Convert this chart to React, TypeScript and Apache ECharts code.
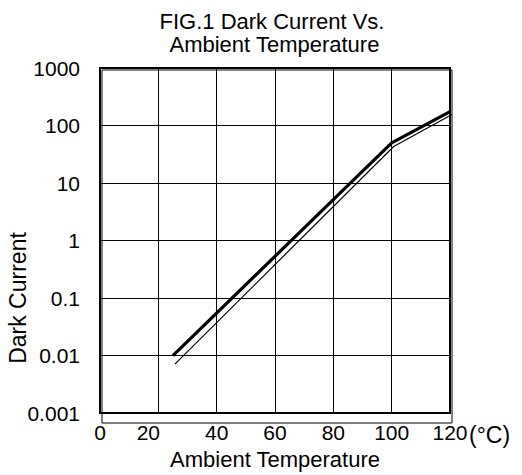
import React, { useEffect, useRef } from "react";
import * as echarts from "echarts";

const temperatures = [25, 100, 120];
const darkCurrent = [0.01, 50, 175];
const xTicks = [0, 20, 40, 60, 80, 100, 120];
const yTickLabels = ["0.001", "0.01", "0.1", "1", "10", "100", "1000"];

const FONT = "'Liberation Sans', Arial, Helvetica, sans-serif";

export default function App() {
  const ref = useRef<HTMLDivElement>(null);
  useEffect(() => {
    if (!ref.current) return;
    document.body.style.margin = "0";
    const chart = echarts.init(ref.current, null, { renderer: "svg" });
    const pts = temperatures.map((t, i) => [t, darkCurrent[i]]);
    const L = 100, T = 68, W = 350, H = 353;
    const xCommon = {
      type: "value" as const,
      min: xTicks[0],
      max: xTicks[xTicks.length - 1],
      interval: 20,
    };
    const yCommon = {
      type: "log" as const,
      logBase: 10,
      min: 0.001,
      max: 1000,
    };
    chart.setOption({
      animation: false,
      backgroundColor: "#fff",
      textStyle: { fontFamily: FONT, color: "#000" },
      title: {
        text: "FIG.1 Dark Current Vs.\n Ambient Temperature",
        left: 267,
        top: 5,
        textAlign: "center",
        textStyle: {
          fontFamily: FONT,
          fontSize: 22,
          fontWeight: "normal",
          color: "#000",
          lineHeight: 23,
          align: "center",
        },
      },
      grid: [
        {
          left: L, top: T, width: W, height: H,
          show: true, borderColor: "#000", borderWidth: 2,
          backgroundColor: "transparent",
        },
        {
          left: L + 2, top: T + 2, width: W, height: H,
          show: true, borderColor: "#000", borderWidth: 1,
          backgroundColor: "transparent",
        },
      ],
      xAxis: [
        {
          ...xCommon,
          gridIndex: 0,
          axisLine: { show: false },
          axisTick: { show: false },
          splitLine: { show: true, lineStyle: { color: "#000", width: 1 } },
          axisLabel: {
            fontSize: 21, color: "#000", fontFamily: FONT, margin: 9,
            formatter: (v: number) => (v === 20 ? "{s|20}" : String(v)),
            rich: { s: { fontSize: 21, fontFamily: FONT, color: "#000", padding: [0, 20, 0, 0] } },
          },
          name: "Ambient Temperature",
          nameLocation: "middle",
          nameGap: 32,
          nameTextStyle: { fontSize: 22, color: "#000", fontFamily: FONT },
        },
        {
          ...xCommon,
          gridIndex: 1,
          axisLine: { show: false },
          axisTick: { show: false },
          splitLine: { show: false },
          axisLabel: { show: false },
          name: "(°C)",
          nameLocation: "end",
          nameGap: 17,
          nameTextStyle: {
            fontSize: 23, color: "#000", fontFamily: FONT,
            verticalAlign: "top", align: "left", padding: [0, 0, 4, 0],
          },
        },
      ],
      yAxis: [
        {
          ...yCommon,
          gridIndex: 0,
          axisLine: { show: false },
          axisTick: { show: false },
          splitLine: { show: true, lineStyle: { color: "#000", width: 1 } },
          axisLabel: {
            fontSize: 21, color: "#000", fontFamily: FONT, margin: 20,
            formatter: (_v: number, i: number) => yTickLabels[i] ?? "",
          },
        },
        {
          ...yCommon,
          gridIndex: 1,
          axisLine: { show: false },
          axisTick: { show: false },
          splitLine: { show: false },
          axisLabel: { show: false },
        },
      ],
      graphic: [
        {
          type: "text",
          x: 18,
          y: 298,
          rotation: Math.PI / 2,
          style: {
            text: "Dark Current",
            fontFamily: FONT,
            fontSize: 23,
            fill: "#000",
            align: "center",
            verticalAlign: "middle",
          },
        },
      ],
      series: [
        {
          type: "line",
          xAxisIndex: 0,
          yAxisIndex: 0,
          data: pts,
          symbol: "none",
          lineStyle: { color: "#000", width: 3.2 },
          z: 5,
        },
        {
          type: "line",
          xAxisIndex: 1,
          yAxisIndex: 1,
          data: pts,
          symbol: "none",
          lineStyle: { color: "#000", width: 1.2 },
          z: 5,
        },
      ],
    });
    return () => chart.dispose();
  }, []);
  return <div ref={ref} style={{ width: 522, height: 475 }} />;
}
